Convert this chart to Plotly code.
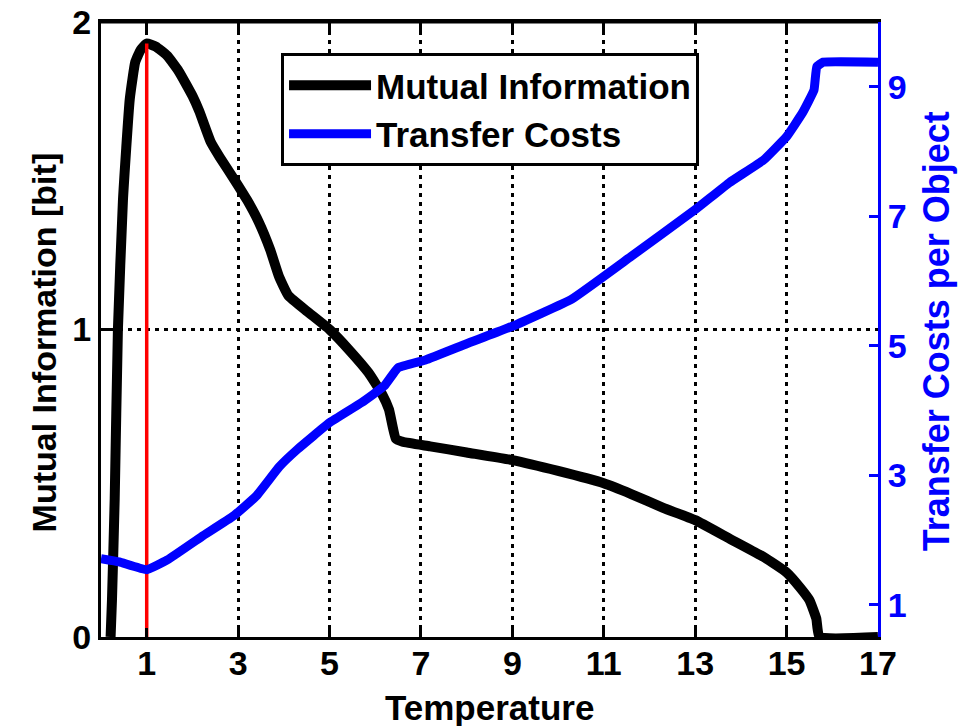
import plotly.graph_objects as go

# Mutual information curve (left axis)
temp_mi = [0.21, 0.24, 0.30, 0.37, 0.48, 0.63, 0.75, 0.87, 1.00, 1.20, 1.45, 1.70, 2.00,
           2.15, 2.40, 2.60, 2.95, 3.20, 3.45, 3.70, 3.90, 4.10, 4.50, 5.00, 5.45, 5.85,
           6.15, 6.30, 6.45, 6.60, 7.20, 8.00, 9.00, 10.0, 11.0, 11.6, 12.3, 13.0, 13.75,
           14.5, 15.0, 15.3, 15.5, 15.65, 15.72, 17.0]
mutual_info = [0.0, 0.12, 0.45, 1.00, 1.42, 1.75, 1.87, 1.91, 1.93, 1.92, 1.89, 1.84, 1.76,
               1.71, 1.61, 1.56, 1.48, 1.42, 1.35, 1.26, 1.17, 1.11, 1.06, 1.00, 0.93, 0.86,
               0.79, 0.74, 0.645, 0.635, 0.62, 0.60, 0.575, 0.54, 0.50, 0.465, 0.42, 0.38, 0.32,
               0.26, 0.21, 0.16, 0.12, 0.06, 0.0, 0.0]

# Transfer costs curve (right axis)
temp_tc = [0.0, 0.4, 1.0, 1.45, 2.2, 2.9, 3.4, 3.9, 4.3, 5.0, 5.7, 6.2, 6.5, 7.1, 8.0, 9.0,
           10.3, 11.6, 13.0, 13.75, 14.5, 15.0, 15.35, 15.6, 15.66, 15.8, 17.0]
transfer_costs = [1.71, 1.66, 1.54, 1.69, 2.05, 2.37, 2.68, 3.13, 3.4, 3.81, 4.12, 4.38, 4.66,
                  4.78, 5.03, 5.3, 5.72, 6.38, 7.1, 7.52, 7.87, 8.23, 8.6, 8.95, 9.31, 9.38, 9.38]

# Marker of the optimum temperature
opt_temp = [1.0, 1.0]
opt_mi = [0.0, 1.93]

x_ticks = [1, 3, 5, 7, 9, 11, 13, 15, 17]
y_ticks = [0, 1, 2]
y2_ticks = [1, 3, 5, 7, 9]

x_title = "Temperature"
y_title = "Mutual Information [bit]"
y2_title = "Transfer Costs per Object"

FONT = "Liberation Sans, Arial, sans-serif"
BLUE = "#0000ff"

fig = go.Figure()
fig.add_trace(go.Scatter(x=temp_mi, y=mutual_info, mode="lines", name="Mutual Information",
                         line=dict(color="black", width=10, shape="spline", smoothing=0.4),
                         yaxis="y"))
fig.add_trace(go.Scatter(x=opt_temp, y=opt_mi, mode="lines", showlegend=False,
                         line=dict(color="#ff0000", width=3.5), yaxis="y"))
fig.add_trace(go.Scatter(x=temp_tc, y=transfer_costs, mode="lines", name="Transfer Costs",
                         line=dict(color=BLUE, width=9, shape="spline", smoothing=0.3),
                         yaxis="y2"))

grid_dash = "4px,5px"
fig.update_layout(
    width=969, height=726,
    margin=dict(l=101, r=91, t=22, b=89),
    paper_bgcolor="white", plot_bgcolor="white",
    font=dict(family=FONT, size=34, color="black", weight="bold"),
    xaxis=dict(range=[0, 17], tickvals=x_ticks, ticks="inside", ticklen=9, tickwidth=3,
               tickcolor="black", showline=True, linewidth=3, linecolor="black", mirror="ticks",
               showgrid=True, gridcolor="black", gridwidth=3, griddash=grid_dash,
               zeroline=False, automargin=False, ticklabelstandoff=-6,
               tickfont=dict(size=34, family=FONT, weight="bold")),
    yaxis=dict(range=[0, 2], tickvals=y_ticks, ticks="inside", ticklen=9, tickwidth=3,
               tickcolor="black", showline=True, linewidth=3, linecolor="black", mirror=False,
               showgrid=True, gridcolor="black", gridwidth=3, griddash=grid_dash,
               zeroline=False, automargin=False,
               tickfont=dict(size=34, family=FONT, weight="bold")),
    yaxis2=dict(range=[0.5, 10], tickvals=y2_ticks, overlaying="y", side="right",
                ticks="inside", ticklen=9, tickwidth=3, tickcolor=BLUE, showline=True,
                linewidth=3, linecolor=BLUE, showgrid=False, zeroline=False, automargin=False,
                tickfont=dict(size=34, family=FONT, weight="bold", color=BLUE)),
    legend=dict(x=0.2317, y=0.9496, xanchor="left", yanchor="top", bgcolor="white",
                bordercolor="black", borderwidth=3, itemwidth=82,
                font=dict(size=35, family=FONT, weight="bold", color="black"),
                tracegroupgap=0),
    showlegend=True,
    shapes=[
        dict(type="line", xref="paper", yref="paper", x0=0, x1=1, y0=1, y1=1,
             line=dict(color="black", width=3), layer="above"),
    ],
    annotations=[
        dict(text=x_title, xref="paper", yref="paper", x=0.5, y=-0.1145,
             xanchor="center", yanchor="middle", showarrow=False,
             font=dict(size=35, family=FONT, weight="bold", color="black")),
        dict(text=y_title, xref="paper", yref="paper", x=-0.0734, y=0.479,
             xanchor="center", yanchor="middle", textangle=-90, showarrow=False,
             font=dict(size=34, family=FONT, weight="bold", color="black")),
        dict(text=y2_title, xref="paper", yref="paper", x=1.0746, y=0.497,
             xanchor="center", yanchor="middle", textangle=-90, showarrow=False,
             font=dict(size=36, family=FONT, weight="bold", color=BLUE)),
    ],
)

page_css = ("document.documentElement.style.margin='0';"
            "document.body.style.margin='0';"
            "document.body.style.overflow='hidden';")
fig.write_html("out.html", post_script=page_css, config={"displayModeBar": False})
